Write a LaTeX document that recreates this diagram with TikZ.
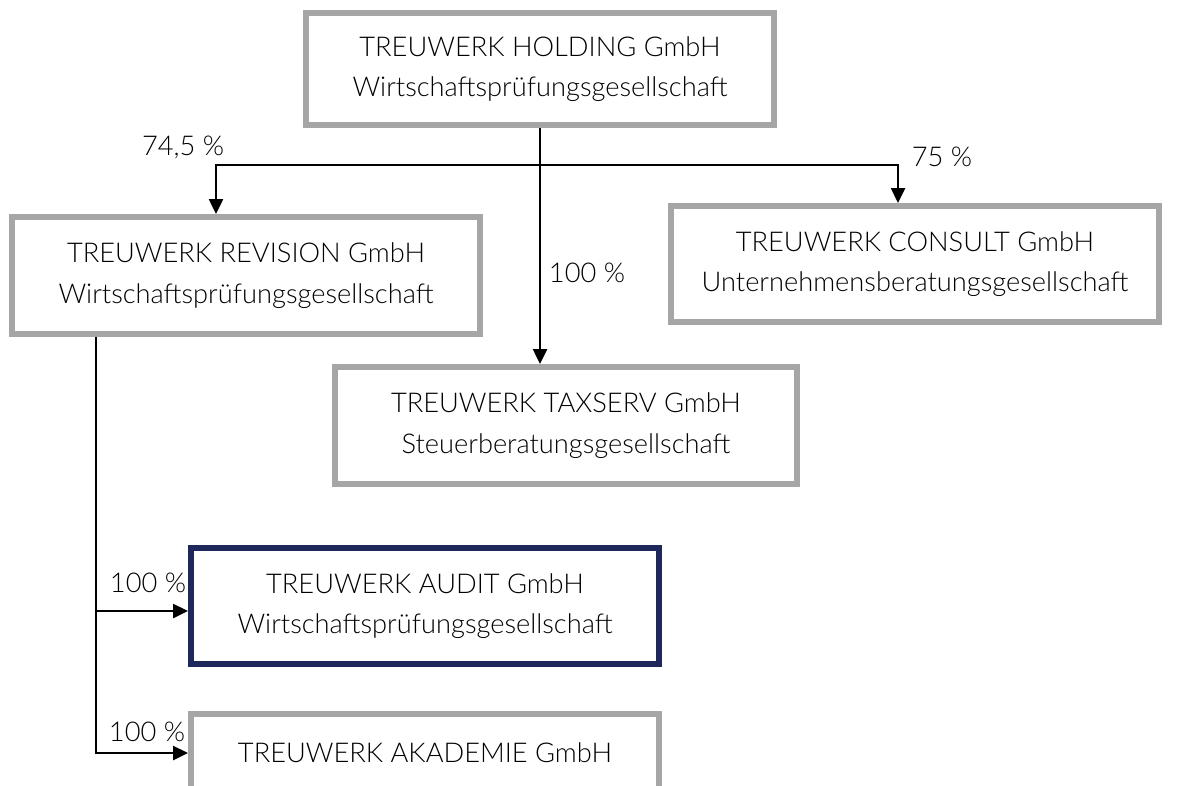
\documentclass[tikz,border=0pt]{standalone}
\usepackage{fontspec}
\setmainfont{Lato}[UprightFont=* Light]
\usetikzlibrary{arrows.meta}

\definecolor{boxgray}{RGB}{166,166,166}
\definecolor{auditblue}{RGB}{31,40,90}

\begin{document}
\begin{tikzpicture}[
  company/.style={
    draw=boxgray, line width=0.12cm, fill=white,
    minimum width=9.36cm, minimum height=2.32cm,
    align=center, font=\fontsize{15.5}{23}\selectfont
  },
  share/.style={font=\fontsize{15.5}{20}\selectfont, inner sep=1pt},
  arr/.style={-{Triangle[length=0.3cm, width=0.28cm]}, line width=0.05cm}
]
  \useasboundingbox (0,0) rectangle (23.94,-15.7);
  \clip (0,0) rectangle (23.94,-15.7);

  \node[company, minimum height=2.24cm] (holding) at (10.8,-1.38) {TREUWERK HOLDING GmbH\\Wirtschaftsprüfungsgesellschaft};
  \node[company, minimum height=2.34cm] (revision) at (4.92,-5.51) {TREUWERK REVISION GmbH\\Wirtschaftsprüfungsgesellschaft};
  \node[company, minimum width=9.76cm] (consult) at (18.3,-5.28) {TREUWERK CONSULT GmbH\\Unternehmensberatungsgesellschaft};
  \node[company, minimum width=9.24cm, minimum height=2.34cm] (taxserv) at (11.32,-8.51) {TREUWERK TAXSERV GmbH\\Steuerberatungsgesellschaft};
  \node[company, draw=auditblue] (audit) at (8.5,-12.12) {TREUWERK AUDIT GmbH\\Wirtschaftsprüfungsgesellschaft};
  \node[company, minimum height=1.58cm] (akademie) at (8.5,-15.06) {TREUWERK AKADEMIE GmbH};

  % holding split
  \coordinate (split) at (holding.south |- 0,-3.3);
  \draw[arr] (holding.south) -- (holding.south |- taxserv.north);
  \draw[arr] (split) -| ([xshift=-0.6cm]revision.north);
  \draw[arr] (split) -| ([xshift=-0.34cm]consult.north);

  % revision children
  \coordinate (rdown) at ([xshift=-3cm]revision.south);
  \draw[arr] (rdown) |- ([yshift=-0.1cm]audit.west);
  \draw[arr] (rdown) |- (akademie.west);

  \node[share] (p745) at (3.66,-2.94) {74,5 \%};
  \node[share] (p75) at (18.84,-3.14) {75 \%};
  \node[share] (p100t) at (11.74,-5.46) {100 \%};
  \node[share] (p100a) at (2.96,-11.66) {100 \%};
  \node[share] (p100k) at (2.94,-14.64) {100 \%};
\end{tikzpicture}
\end{document}
